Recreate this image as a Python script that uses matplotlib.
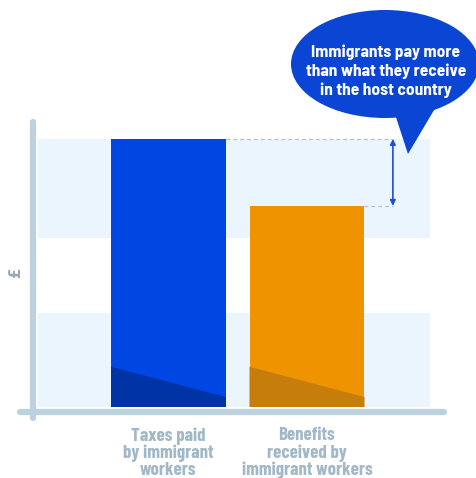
import matplotlib.pyplot as plt
from matplotlib.patches import Ellipse, Polygon

# Values (taxes paid = 100)
categories = ['Taxes paid\nby immigrant\nworkers', 'Benefits\nreceived by\nimmigrant workers']
values = [100, 75]
shade_left = [15, 15]
shade_right = [3.7, 3.7]
bands = [(0, 35), (63, 100)]
bubble_text = 'Immigrants pay more\nthan what they receive\nin the host country'

bar_colors = ['#0046e2', '#ef9400']
shade_colors = ['#0034a6', '#c67d0c']
label_color = '#a3b8c6'
axis_color = '#bcd2df'
band_color = '#eaf5fd'
bubble_color = '#0a46d3'
fallback = ['Roboto Condensed', 'DejaVu Sans']
label_font = dict(family=['Barlow Condensed'] + fallback, fontstretch='condensed', fontweight='bold')
bubble_font = dict(family=['Barlow Semi Condensed'] + fallback, fontstretch='condensed', fontweight='bold')

fig = plt.figure(figsize=(4.77, 4.78), dpi=100)
W, H = 477, 478

# main axes, placed in pixel terms
left, right, top, bottom = 38, 430, 122, 407
ax = fig.add_axes([left / W, 1 - bottom / H, (right - left) / W, (bottom - top) / H])
ax.set_xlim(-0.942, 1.888)
ax.set_ylim(0, 106.3)
ax.axis('off')

# background bands
for b0, b1 in bands:
    ax.axhspan(b0, b1, color=band_color, lw=0, zorder=0)

# bars
width = 0.83
x = range(len(values))
ax.bar(x, values, width=width, color=bar_colors, zorder=2)
for i, v in enumerate(values):
    x0, x1 = i - width / 2, i + width / 2
    ax.add_patch(Polygon([(x0, 0), (x0, shade_left[i]), (x1, shade_right[i]), (x1, 0)],
                         closed=True, color=shade_colors[i], lw=0, zorder=3))

# category labels
for i, lab in enumerate(categories):
    ax.text(i, -7.5, lab, ha='center', va='top', fontsize=13.5, color=label_color,
            linespacing=1.0, clip_on=False, **label_font)

# axis lines
ax.plot([-0.046, 1.036], [-0.016, -0.016], transform=ax.transAxes, color=axis_color,
        lw=4.5, solid_capstyle='round', clip_on=False, zorder=4)
ax.plot([-0.013, -0.013], [1.0, -0.04], transform=ax.transAxes, color=axis_color,
        lw=4.5, solid_capstyle='round', clip_on=False, zorder=4)
ax.text(-0.058, 0.47, '£', transform=ax.transAxes, rotation=90, ha='center', va='center',
        fontsize=11, fontweight='bold', color='#9aaab5')

# difference marker
arrow_x = 1.62
ax.hlines(values[0], width / 2, arrow_x, colors='#b7c1cb', linestyles=(0, (3, 2.5)), lw=0.9, zorder=1)
ax.hlines(values[1], 1 + width / 2, arrow_x, colors='#b7c1cb', linestyles=(0, (3, 2.5)), lw=0.9, zorder=1)
ax.annotate('', xy=(arrow_x, values[0]), xytext=(arrow_x, values[1]),
            arrowprops=dict(arrowstyle='<|-|>', color='#1c4fd6', lw=1.2,
                            mutation_scale=8, shrinkA=0, shrinkB=0))

# speech bubble on a pixel-space overlay
ov = fig.add_axes([0, 0, 1, 1])
ov.set_xlim(0, W)
ov.set_ylim(H, 0)
ov.axis('off')
ov.add_patch(Polygon([(392, 105), (408, 154), (440, 100)], closed=True,
                     color=bubble_color, lw=0))
ov.add_patch(Ellipse((385, 64), 188, 108, color=bubble_color, lw=0))
ov.text(386, 71, bubble_text, ha='center', va='center', fontsize=12.5,
        color='white', linespacing=1.28, **bubble_font)

fig.savefig('out.png', dpi=100)
